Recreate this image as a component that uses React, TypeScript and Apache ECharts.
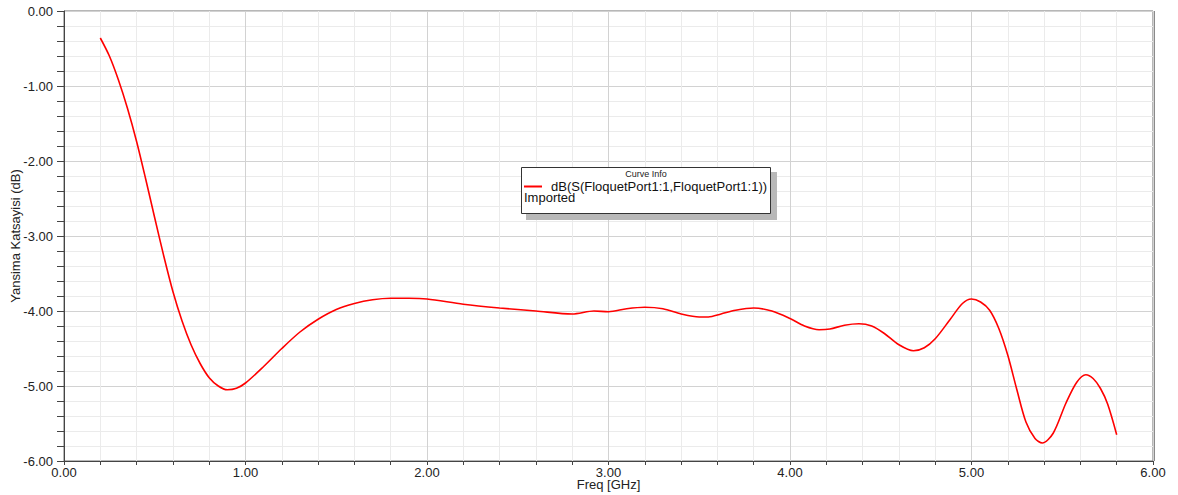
import React, { useEffect, useRef } from "react";
import * as echarts from "echarts";

const freqGHz: number[] = [
  0.2, 0.25, 0.3, 0.35, 0.4, 0.45, 0.5, 0.55, 0.6, 0.65, 0.7, 0.75, 0.8, 0.85, 0.9, 0.95,
  1.0, 1.1, 1.2, 1.3, 1.4, 1.5, 1.6, 1.7, 1.8, 1.9, 2.0, 2.2, 2.4, 2.6, 2.8, 2.92, 3.0,
  3.1, 3.2, 3.3, 3.4, 3.5, 3.55, 3.62, 3.7, 3.8, 3.9, 4.0, 4.08, 4.16, 4.22, 4.3, 4.38,
  4.45, 4.52, 4.6, 4.68, 4.74, 4.8, 4.88, 4.95, 5.0, 5.05, 5.1, 5.15, 5.2, 5.25, 5.3,
  5.35, 5.39, 5.45, 5.52, 5.58, 5.63, 5.67, 5.71, 5.75, 5.8,
];
const s11dB: number[] = [
  -0.36, -0.6, -0.92, -1.3, -1.74, -2.24, -2.76, -3.27, -3.74, -4.13, -4.45, -4.7, -4.89,
  -5.0, -5.05, -5.03, -4.96, -4.74, -4.5, -4.28, -4.11, -3.98, -3.9, -3.85, -3.83, -3.83,
  -3.84, -3.91, -3.96, -4.0, -4.04, -4.0, -4.01, -3.97, -3.95, -3.97, -4.04, -4.08, -4.08,
  -4.04, -3.99, -3.96, -4.0, -4.1, -4.2, -4.25, -4.24, -4.19, -4.17, -4.2, -4.3, -4.45,
  -4.53, -4.49, -4.37, -4.12, -3.9, -3.84, -3.88, -3.99, -4.23, -4.59, -5.05, -5.48, -5.7,
  -5.76, -5.63, -5.23, -4.95, -4.85, -4.9, -5.03, -5.24, -5.65,
];

const xTitle = "Freq [GHz]";
const yTitle = "Yansima Katsayisi (dB)";
const legendTitle = "Curve Info";
const seriesName = "dB(S(FloquetPort1:1,FloquetPort1:1))";
const seriesSub = "Imported";

const FONT = "'Liberation Sans', Arial, sans-serif";

export default function App() {
  const ref = useRef<HTMLDivElement>(null);
  useEffect(() => {
    if (!ref.current) return;
    const chart = echarts.init(ref.current, undefined, { renderer: "svg" });
    const data = freqGHz.map((f, i) => [f, s11dB[i]]);
    chart.setOption({
      animation: false,
      backgroundColor: "#ffffff",
      textStyle: { fontFamily: FONT },
      grid: {
        left: 64,
        right: 25,
        top: 11,
        bottom: 34,
        show: true,
        borderColor: "#6e6e6e",
        borderWidth: 1,
        containLabel: false,
        outerBoundsMode: "none",
      },
      xAxis: {
        type: "value",
        min: 0,
        max: 6,
        interval: 1,
        name: xTitle,
        nameLocation: "middle",
        nameGap: 17,
        nameMoveOverlap: false,
        nameTextStyle: { fontSize: 13, color: "#222", fontFamily: FONT },
        axisLine: { show: true, onZero: false, lineStyle: { color: "#444", width: 1 } },
        axisTick: { show: true, length: 4, lineStyle: { color: "#444" } },
        minorTick: { show: true, splitNumber: 5, length: 4, lineStyle: { color: "#444" } },
        axisLabel: {
          fontSize: 13,
          color: "#222",
          margin: 5,
          fontFamily: FONT,
          formatter: (v: number) => v.toFixed(2),
        },
        splitLine: { show: true, lineStyle: { color: "#d2d2d2", width: 1 } },
        minorSplitLine: { show: true, lineStyle: { color: "#ebebeb", width: 1 } },
      },
      yAxis: {
        type: "value",
        min: -6,
        max: 0,
        interval: 1,
        name: yTitle,
        nameLocation: "middle",
        nameGap: 42,
        nameMoveOverlap: false,
        nameRotate: 90,
        nameTextStyle: { fontSize: 13, color: "#222", fontFamily: FONT },
        axisLine: { show: true, onZero: false, lineStyle: { color: "#444", width: 1 } },
        axisTick: { show: true, length: 7, lineStyle: { color: "#444" } },
        minorTick: { show: true, splitNumber: 5, length: 7, lineStyle: { color: "#444" } },
        axisLabel: {
          fontSize: 13,
          color: "#222",
          margin: 11,
          fontFamily: FONT,
          formatter: (v: number) => v.toFixed(2),
        },
        splitLine: { show: true, lineStyle: { color: "#d2d2d2", width: 1 } },
        minorSplitLine: { show: true, lineStyle: { color: "#ebebeb", width: 1 } },
      },
      series: [
        {
          type: "line",
          name: seriesName,
          data,
          smooth: 0.3,
          showSymbol: false,
          symbol: "none",
          lineStyle: { color: "#ff0000", width: 1.6 },
          z: 5,
        },
      ],
      graphic: [
        {
          type: "line",
          shape: { x1: 1154, y1: 11, x2: 1154, y2: 461 },
          style: { stroke: "#8a8a8a", lineWidth: 2 },
          silent: true,
        },
        {
          type: "rect",
          shape: { x: 526, y: 172, width: 251, height: 48 },
          style: { fill: "#b8b8b8" },
          z: 10,
        },
        {
          type: "rect",
          shape: { x: 521.5, y: 167.5, width: 249, height: 46 },
          style: { fill: "#ffffff", stroke: "#333333", lineWidth: 1 },
          z: 11,
        },
        {
          type: "text",
          x: 646,
          y: 174,
          style: {
            text: legendTitle,
            font: "9px " + FONT,
            fill: "#222",
            align: "center",
            verticalAlign: "middle",
          },
          z: 12,
        },
        {
          type: "line",
          shape: { x1: 524, y1: 186.5, x2: 542, y2: 186.5 },
          style: { stroke: "#ff0000", lineWidth: 2 },
          z: 12,
        },
        {
          type: "text",
          x: 551,
          y: 186,
          style: {
            text: seriesName,
            font: "13px " + FONT,
            fill: "#111",
            align: "left",
            verticalAlign: "middle",
          },
          z: 12,
        },
        {
          type: "text",
          x: 524,
          y: 197,
          style: {
            text: seriesSub,
            font: "13px " + FONT,
            fill: "#111",
            align: "left",
            verticalAlign: "middle",
          },
          z: 12,
        },
      ],
    });
    return () => chart.dispose();
  }, []);
  return (
    <div
      ref={ref}
      style={{ position: "fixed", left: 0, top: 0, width: 1178, height: 495, background: "#fff" }}
    />
  );
}
